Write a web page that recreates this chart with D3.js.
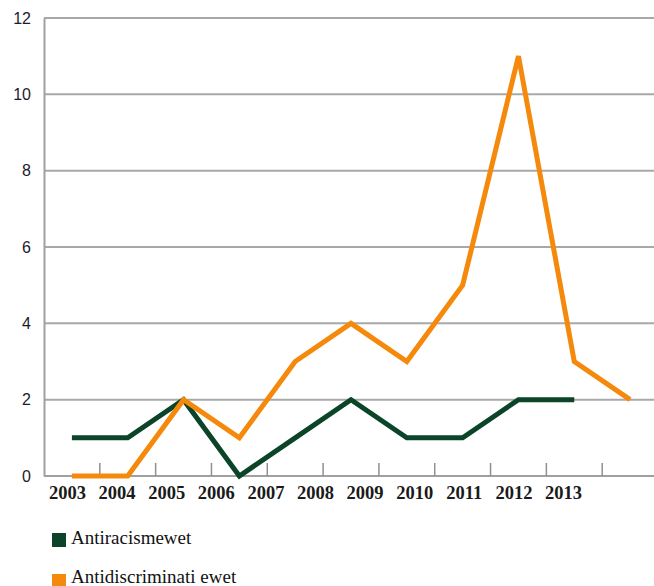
<!DOCTYPE html>
<html>
<head>
<meta charset="utf-8">
<script src="https://cdn.jsdelivr.net/npm/d3@7/dist/d3.min.js"></script>
<style>
  html, body { margin: 0; padding: 0; background: #fff; }
  svg { display: block; }
</style>
</head>
<body>
<svg id="chart" width="654" height="586"></svg>
<script>
// Data
const years = ["2003","2004","2005","2006","2007","2008","2009","2010","2011","2012","2013"];
const yearLabels = ["2003","2004","2005","2006","2007","2008","2009","2010","2011","2012","2013"];
const antiracisme = [1, 1, 2, 0, 1, 2, 1, 1, 2, 2, null];
const antidiscriminatie = [0, 0, 2, 1, 3, 4, 3, 5, 11, 3, 2];
const yTicks = [0, 2, 4, 6, 8, 10, 12];
const seriesNames = ["Antiracismewet", "Antidiscriminati ewet"];
const seriesColors = ["#0b4429", "#f5890c"];

const svg = d3.select("#chart");
const mLeft = 44, mRight = 658, mTop = 18, mBottom = 476;

const x = d3.scaleBand().domain(years).range([mLeft, mRight]).paddingInner(0).paddingOuter(0);
const y = d3.scaleLinear().domain([0, 12]).range([mBottom, mTop]);
const xLab = d3.scalePoint().domain(yearLabels).range([67, 563]);

// gridlines
svg.append("g")
  .selectAll("line")
  .data(yTicks.filter(d => d > 0))
  .join("line")
  .attr("x1", mLeft).attr("x2", 654)
  .attr("y1", d => y(d)).attr("y2", d => y(d))
  .attr("stroke", "#a8a8a8").attr("stroke-width", 2);

// y axis
const yAxis = svg.append("g").attr("transform", `translate(${mLeft},0)`)
  .call(d3.axisLeft(y).tickValues(yTicks).tickSize(0).tickPadding(13));
yAxis.select(".domain").attr("stroke", "#a0a0a0").attr("stroke-width", 2);
yAxis.selectAll("text")
  .attr("font-family", "'Liberation Sans', Arial, sans-serif")
  .attr("font-size", 16).attr("fill", "#1c1c2a");

// x axis: ticks at band boundaries
const boundaries = years.slice(1);
const xAxis = svg.append("g").attr("transform", `translate(0,${mBottom})`);
xAxis.append("line").attr("x1", mLeft).attr("x2", 654).attr("y1", 0).attr("y2", 0)
  .attr("stroke", "#a0a0a0").attr("stroke-width", 2);
xAxis.selectAll("line.tick")
  .data(boundaries)
  .join("line").attr("class", "tick")
  .attr("x1", d => x(d)).attr("x2", d => x(d))
  .attr("y1", 0).attr("y2", -13)
  .attr("stroke", "#909090").attr("stroke-width", 1.5);

const xLabAxis = svg.append("g").attr("transform", `translate(0,${mBottom})`)
  .call(d3.axisBottom(xLab).tickSize(0).tickPadding(10));
xLabAxis.select(".domain").remove();
xLabAxis.selectAll("text")
  .attr("font-family", "'Liberation Serif', 'Times New Roman', serif")
  .attr("font-weight", "bold")
  .attr("font-size", 18.5).attr("fill", "#1a1a1a");

// lines
const line = d3.line()
  .defined(d => d.v !== null)
  .x(d => x(d.year) + x.bandwidth() / 2)
  .y(d => y(d.v));

[antiracisme, antidiscriminatie].forEach((vals, i) => {
  const pts = years.map((yr, j) => ({ year: yr, v: vals[j] }));
  svg.append("path")
    .datum(pts)
    .attr("d", line)
    .attr("fill", "none")
    .attr("stroke", seriesColors[i])
    .attr("stroke-width", 5)
    .attr("stroke-linejoin", "miter");
});

// legend
const legend = svg.append("g");
seriesNames.forEach((name, i) => {
  const gy = 533 + i * 41;
  legend.append("rect").attr("x", 52).attr("y", gy).attr("width", 14).attr("height", 14)
    .attr("fill", seriesColors[i]);
  legend.append("text").attr("x", 71).attr("y", i === 0 ? 544 : 583)
    .attr("font-family", "'Liberation Serif', 'Times New Roman', serif")
    .attr("font-size", 19).attr("fill", "#111")
    .text(name);
});
</script>
</body>
</html>
